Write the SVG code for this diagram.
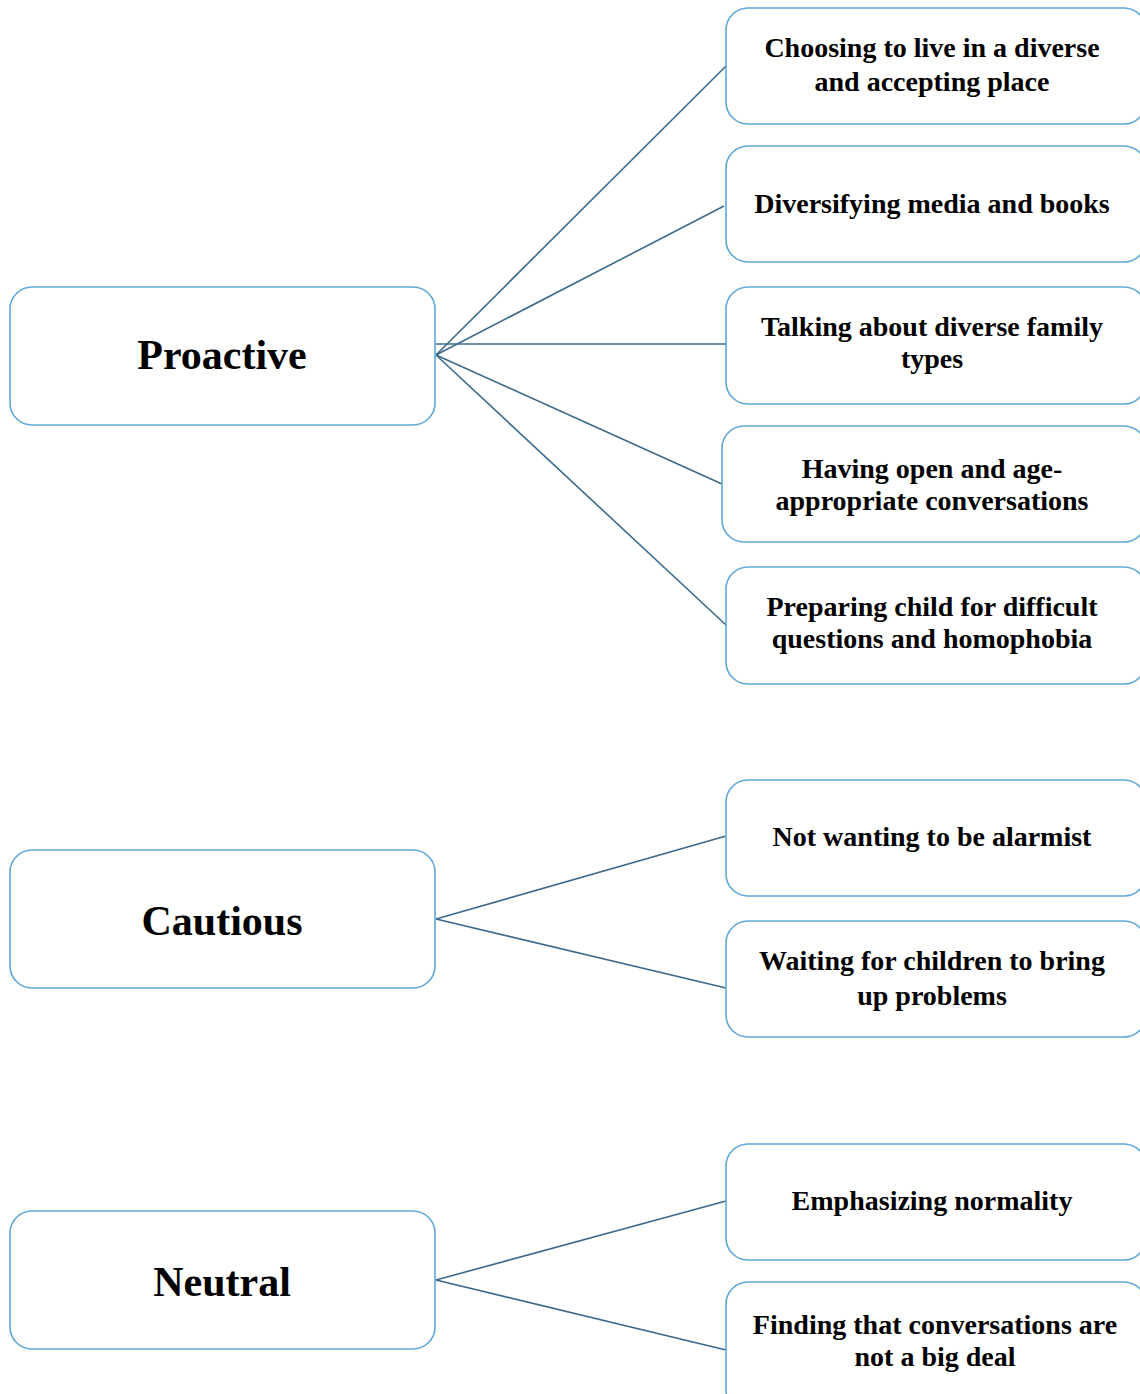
<svg xmlns="http://www.w3.org/2000/svg" width="1140" height="1394" viewBox="0 0 1140 1394">
<style>
.node{fill:#fff;stroke:#5ea7d6;stroke-width:1.6}
.big{font-family:"Liberation Serif",serif;font-weight:bold;font-size:42px;fill:#000;text-anchor:middle}
.lbl{font-family:"Liberation Serif",serif;font-weight:bold;font-size:28px;fill:#000;text-anchor:middle}
.conn line{stroke:#3b6a8c;stroke-width:1.6}
</style>
<rect width="1140" height="1394" fill="#fff"/>
<g id="connectors" class="conn">
<line x1="436" y1="355" x2="726" y2="66"/>
<line x1="436" y1="355" x2="724" y2="206"/>
<line x1="436" y1="344" x2="726" y2="344"/>
<line x1="436" y1="355" x2="722" y2="484"/>
<line x1="436" y1="355" x2="726" y2="625"/>
<line x1="436" y1="919" x2="726" y2="836"/>
<line x1="436" y1="919" x2="726" y2="988"/>
<line x1="436" y1="1280" x2="726" y2="1201"/>
<line x1="436" y1="1280" x2="726" y2="1350"/>
</g>
<g id="proactive"><rect class="node" x="10" y="287" width="425" height="138" rx="22"/><text class="big" x="222" y="369">Proactive</text></g>
<g id="cautious"><rect class="node" x="10" y="850" width="425" height="138" rx="22"/><text class="big" x="222" y="935">Cautious</text></g>
<g id="neutral"><rect class="node" x="10" y="1211" width="425" height="138" rx="22"/><text class="big" x="222" y="1296">Neutral</text></g>
<g id="n1"><rect class="node" x="726" y="8" width="420" height="116" rx="22"/><text class="lbl" x="932" y="57">Choosing to live in a diverse</text><text class="lbl" x="932" y="91">and accepting place</text></g>
<g id="n2"><rect class="node" x="726" y="146" width="420" height="116" rx="22"/><text class="lbl" x="932" y="213">Diversifying media and books</text></g>
<g id="n3"><rect class="node" x="726" y="287" width="420" height="117" rx="22"/><text class="lbl" x="932" y="336">Talking about diverse family</text><text class="lbl" x="932" y="368">types</text></g>
<g id="n4"><rect class="node" x="722" y="426" width="424" height="116" rx="22"/><text class="lbl" x="932" y="478">Having open and age-</text><text class="lbl" x="932" y="510">appropriate conversations</text></g>
<g id="n5"><rect class="node" x="726" y="567" width="420" height="117" rx="22"/><text class="lbl" x="932" y="616">Preparing child for difficult</text><text class="lbl" x="932" y="648">questions and homophobia</text></g>
<g id="n6"><rect class="node" x="726" y="780" width="420" height="116" rx="22"/><text class="lbl" x="932" y="846">Not wanting to be alarmist</text></g>
<g id="n7"><rect class="node" x="726" y="921" width="420" height="116" rx="22"/><text class="lbl" x="932" y="970">Waiting for children to bring</text><text class="lbl" x="932" y="1005">up problems</text></g>
<g id="n8"><rect class="node" x="726" y="1144" width="420" height="116" rx="22"/><text class="lbl" x="932" y="1210">Emphasizing normality</text></g>
<g id="n9"><rect class="node" x="726" y="1282" width="420" height="130" rx="22"/><text class="lbl" x="935" y="1334">Finding that conversations are</text><text class="lbl" x="935" y="1366">not a big deal</text></g>
</svg>
